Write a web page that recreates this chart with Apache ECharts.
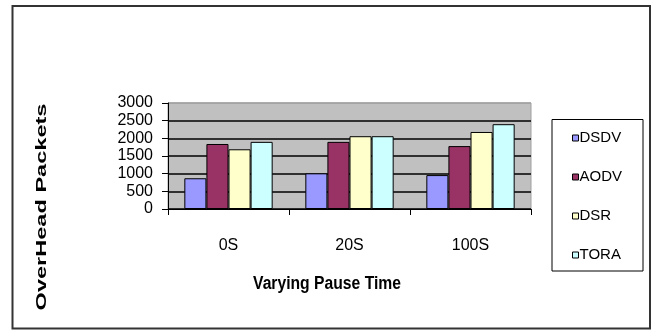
<!DOCTYPE html>
<html>
<head>
<meta charset="utf-8">
<script src="https://cdn.jsdelivr.net/npm/echarts@6/dist/echarts.min.js"></script>
<style>
html,body{margin:0;padding:0;background:#fff;}
#c{width:653px;height:330px;}
</style>
</head>
<body>
<div id="c"></div>
<script>
var categories = ['0S', '20S', '100S'];
var seriesNames = ['DSDV', 'AODV', 'DSR', 'TORA'];
var dsdv = [870, 1010, 960];
var aodv = [1840, 1900, 1780];
var dsr = [1690, 2060, 2180];
var tora = [1900, 2060, 2400];
var yTicks = [0, 500, 1000, 1500, 2000, 2500, 3000];
var xTitle = 'Varying Pause Time';
var yTitle = 'OverHead Packets';

var colors = ['#9999ff', '#993366', '#ffffcc', '#ccffff'];
var values = [dsdv, aodv, dsr, tora];
var font = 'Liberation Sans, Arial, sans-serif';

var chart = echarts.init(document.getElementById('c'), null, {renderer: 'canvas'});
var splitColors = yTicks.map(function (v, i) { return i === yTicks.length - 1 ? '#a0a0a0' : '#000'; });

chart.setOption({
  animation: false,
  backgroundColor: '#fff',
  grid: {
    left: 168, top: 103, right: 122, bottom: 121,
    show: true, backgroundColor: '#c0c0c0', borderColor: '#a0a0a0', borderWidth: 1
  },
  legend: {
    orient: 'vertical',
    left: 572, top: 129,
    padding: 0,
    itemWidth: 6, itemHeight: 6,
    itemGap: 21,
    icon: 'rect',
    itemStyle: {borderColor: '#000', borderWidth: 1},
    textStyle: {fontFamily: font, fontSize: 15, color: '#000', lineHeight: 18, height: 18, padding: [0, 0, 0, -4]},
    data: seriesNames
  },
  xAxis: {
    type: 'category',
    data: categories,
    axisLine: {lineStyle: {color: '#000', width: 1}},
    axisTick: {show: true, length: 6, lineStyle: {color: '#000'}},
    axisLabel: {fontFamily: font, fontSize: 16, color: '#000', margin: 29},
    splitLine: {show: false}
  },
  yAxis: {
    type: 'value',
    min: 0, max: 3000, interval: 500,
    axisLine: {show: true, lineStyle: {color: '#000', width: 1}},
    axisTick: {show: true, length: 6, lineStyle: {color: '#000'}},
    axisLabel: {
      fontFamily: font, fontSize: 16, color: '#000', margin: 15,
      showMinLabel: true, showMaxLabel: true, hideOverlap: false,
      formatter: function (v) { return String(v); }
    },
    splitLine: {show: true, lineStyle: {color: splitColors, width: 1.5}}
  },
  series: seriesNames.map(function (n, i) {
    return {
      name: n,
      type: 'bar',
      data: values[i],
      barGap: '0%',
      barCategoryGap: '27%',
      itemStyle: {color: colors[i], borderColor: '#000', borderWidth: 1}
    };
  }),
  graphic: [
    {type: 'rect', shape: {x: 12.5, y: 6, width: 637.5, height: 322.5}, style: {fill: 'none', stroke: '#333', lineWidth: 2}, silent: true, z: -1},
    {type: 'rect', shape: {x: 552, y: 119.5, width: 91, height: 151.5}, style: {fill: 'none', stroke: '#000', lineWidth: 1}, silent: true},
    {type: 'text', x: 327, y: 284, scaleY: 1.15, style: {text: xTitle, fontFamily: font, fontWeight: 'bold', fontSize: 15.7, fill: '#000', align: 'center', verticalAlign: 'middle'}},
    {type: 'text', x: 42, y: 207, rotation: Math.PI / 2, scaleX: 1.57, style: {text: yTitle, fontFamily: font, fontWeight: 'bold', fontSize: 15, fill: '#000', align: 'center', verticalAlign: 'middle'}}
  ]
});
</script>
</body>
</html>
